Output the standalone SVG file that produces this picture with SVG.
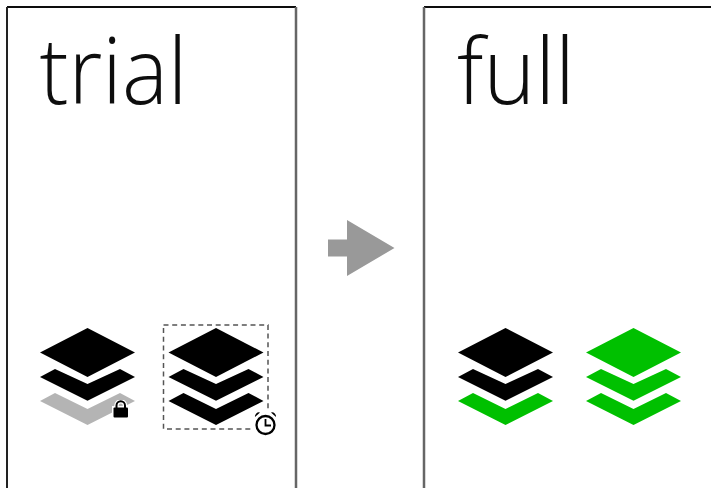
<svg xmlns="http://www.w3.org/2000/svg" width="711" height="488" viewBox="0 0 711 488">
<style>
.ttl{font-family:"Open Sans","Liberation Sans",sans-serif;font-weight:300;font-size:92px;fill:#111}
.edge{fill:none;stroke-width:2}
.k{fill:#000}.g{fill:#00c000}.s{fill:#b4b4b4}
</style>
<defs>
<filter id="soft" x="-5%" y="-5%" width="110%" height="110%"><feGaussianBlur stdDeviation="0.45"/></filter>
<path id="top" d="M0 0L47.500 24.500L0 49L-47.500 24.500Z"/>
<path id="mid" d="M-47.500 49L-32.500 41L0 56L32.500 41L47.500 49L0 72.800Z"/>
<path id="low" d="M-47.500 73L-32.500 65L0 81L32.500 65L47.500 73L0 97Z"/>
</defs>
<rect width="711" height="488" fill="#fff"/>
<g id="panel-trial" filter="url(#soft)">
<path d="M7 7H296" class="edge" stroke="#111"/>
<path d="M7 7V488" class="edge" stroke="#222"/>
<path d="M296 7V488" fill="none" stroke="#666" stroke-width="2.500"/>
<text class="ttl" x="39.500" y="104" textLength="148" lengthAdjust="spacingAndGlyphs">trial</text>
</g>
<g id="panel-full" filter="url(#soft)">
<path d="M424 7H711" class="edge" stroke="#111"/>
<path d="M424 7V488" fill="none" stroke="#666" stroke-width="2.500"/>
<text class="ttl" x="457" y="104" textLength="118" lengthAdjust="spacingAndGlyphs">full</text>
</g>
<g id="connectors" filter="url(#soft)">
<path d="M328 239.500H347V220L394.500 248L347 276V256.500H328Z" fill="#999"/>
</g>
<g id="stack-trial-1" transform="translate(87.500 328)" filter="url(#soft)">
<use href="#top" class="k"/><use href="#mid" class="k"/><use href="#low" class="s"/>
</g>
<g id="lock" filter="url(#soft)">
<path d="M116.500 407V405.500A4.200 4.200 0 0 1 125 405.500V407" fill="none" stroke="#fff" stroke-width="4.500"/>
<rect x="112" y="406" width="17.500" height="13" fill="#fff"/>
<path d="M116.500 408V405.500A4.200 4.200 0 0 1 125 405.500V408" fill="none" stroke="#000" stroke-width="2"/>
<rect x="113.500" y="407.500" width="14.500" height="10" rx="1" fill="#000"/>
</g>
<g id="stack-trial-2" transform="translate(216 328)" filter="url(#soft)">
<rect x="-52.500" y="-3" width="104.500" height="104" fill="none" stroke="#555" stroke-width="1.500" stroke-dasharray="5 3.700"/>
<use href="#top" class="k"/><use href="#mid" class="k"/><use href="#low" class="k"/>
</g>
<g id="clock" filter="url(#soft)">
<rect x="254" y="411" width="24" height="26" fill="#fff"/>
<circle cx="265.500" cy="425" r="9" fill="#fff" stroke="#000" stroke-width="2.300"/>
<path d="M265.500 419V425.500H271" fill="none" stroke="#000" stroke-width="1.800"/>
<path d="M255 417A4 4 0 0 1 260 412.500ZM276 417A4 4 0 0 0 271 412.500Z" fill="#000"/>
</g>
<g id="stack-full-1" transform="translate(505.500 328)" filter="url(#soft)">
<use href="#top" class="k"/><use href="#mid" class="k"/><use href="#low" class="g"/>
</g>
<g id="stack-full-2" transform="translate(633.500 328)" filter="url(#soft)">
<use href="#top" class="g"/><use href="#mid" class="g"/><use href="#low" class="g"/>
</g>
</svg>
